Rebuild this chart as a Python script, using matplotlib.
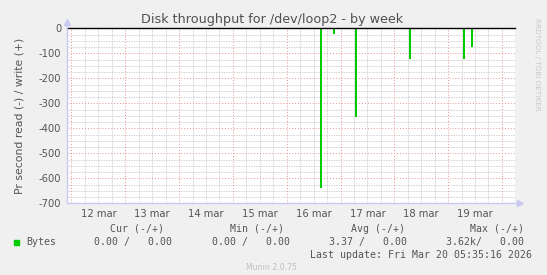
import matplotlib
matplotlib.use("Agg")
import matplotlib.pyplot as plt
import numpy as np

# days on the x axis, value = day of March (12.0 = 12 mar 00:00)
day_numbers = [12, 13, 14, 15, 16, 17, 18, 19]
day_labels = ["12 mar", "13 mar", "14 mar", "15 mar", "16 mar", "17 mar", "18 mar", "19 mar"]

# read spikes (drawn negative), bytes per second
spike_time = [16.637, 16.885, 17.288, 18.292, 19.296, 19.439]
spike_read = [-640, -24, -356, -124, -124, -74]

y_ticks = [0, -100, -200, -300, -400, -500, -600, -700]

legend_head = ["Cur (-/+)", "Min (-/+)", "Avg (-/+)", "Max (-/+)"]
legend_vals = ["0.00 /   0.00", "0.00 /   0.00", "3.37 /   0.00", "3.62k/   0.00"]

W, H = 547, 275
BG = "#f0f0f0"
AXIS = "#c8c8f0"
TXT = "#555555"

fig = plt.figure(figsize=(W / 100, H / 100), dpi=100, facecolor=BG)


def px(x, y):
    return x / W, 1 - y / H


left, right, top, bottom = 66.7, 515, 28.3, 203.3
ax = fig.add_axes([left / W, 1 - bottom / H, (right - left) / W, (bottom - top) / H])
ax.set_facecolor("white")
ax.set_xlim(11.911, 20.243)
ax.set_ylim(-700, 0)
for s in ax.spines.values():
    s.set_visible(False)

# grid: minor every 6 h / 25 units, major every day / 100 units
for d in np.arange(12, 20.25, 0.25):
    if abs(d - round(d)) < 1e-6:
        ax.axvline(d, color="#e89090", lw=0.7, ls=(0, (1, 2)), zorder=1)
    else:
        ax.axvline(d, color="#c4c4c4", lw=0.6, ls=(0, (1, 1)), zorder=0)
for v in range(-700, 1, 25):
    if v % 100 == 0:
        ax.axhline(v, color="#e89090", lw=0.7, ls=(0, (1, 2)), zorder=1)
    else:
        ax.axhline(v, color="#c4c4c4", lw=0.6, ls=(0, (1, 1)), zorder=0)

ax.bar(spike_time, spike_read, width=0.038, color="#00cc00", align="center", zorder=3, linewidth=0)
ax.axhline(0, color="black", lw=1.0, zorder=4, clip_on=False)

# axes lines with arrows
ax.plot([11.911, 11.911], [-700, 25], color=AXIS, lw=1, clip_on=False, zorder=5)
ax.plot([11.911, 20.33], [-700, -700], color=AXIS, lw=1, clip_on=False, zorder=5)
ax.plot([11.911], [25], marker="^", color=AXIS, ms=4, clip_on=False, zorder=5)
ax.plot([20.33], [-700], marker=">", color=AXIS, ms=4, clip_on=False, zorder=5)

ax.set_xticks([d + 0.5 for d in day_numbers])
ax.set_xticklabels(day_labels)
ax.set_yticks(y_ticks)
ax.set_yticklabels([str(v) for v in y_ticks])
ax.tick_params(length=0, labelsize=7.2, colors=TXT, pad=4)
ax.set_ylabel("Pr second read (-) / write (+)", fontsize=7.8, color=TXT, labelpad=10)

fig.text(*px(272, 19), "Disk throughput for /dev/loop2 - by week", ha="center", va="center",
         fontsize=9.2, color="#505050")
fig.text(*px(537, 64), "RRDTOOL / TOBI OETIKER", rotation=270, ha="center", va="center",
         fontsize=5.2, color="#c8c8c8")

mono = dict(family="DejaVu Sans Mono", fontsize=7.1, color=TXT, va="center", ha="left")
head_x = [110.4, 230.2, 350.7, 470.5]
val_x = [94.4, 211.8, 328.8, 446.2]
for x, t in zip(head_x, legend_head):
    fig.text(*px(x, 228.5), t, **mono)
fig.patches.append(plt.Rectangle(px(14, 245), 5 / W, 5 / H, transform=fig.transFigure,
                                 color="#00cc00", figure=fig))
fig.text(*px(26, 242), "Bytes", **mono)
for x, t in zip(val_x, legend_vals):
    fig.text(*px(x, 242), t, **mono)
fig.text(*px(310, 254.5), "Last update: Fri Mar 20 05:35:16 2026", **mono)
fig.text(*px(271.5, 267), "Munin 2.0.75", ha="center", va="center", fontsize=5.6, color="#c0c0c0")

fig.savefig("out.png", dpi=100, facecolor=BG)
